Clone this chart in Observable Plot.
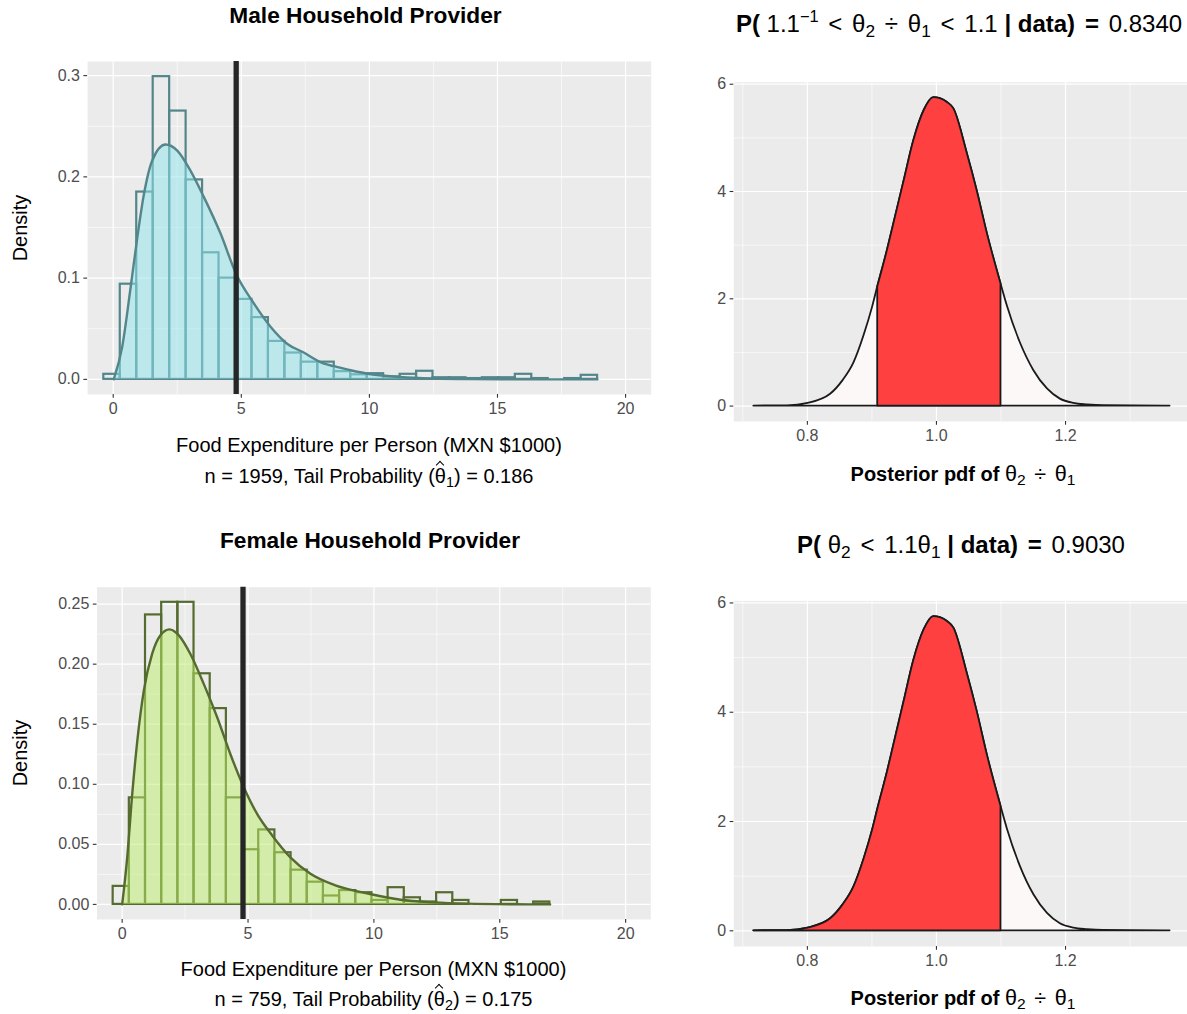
<!DOCTYPE html>
<html>
<head>
<meta charset="utf-8">
<script src="https://cdn.jsdelivr.net/npm/d3@7"></script>
<script src="https://cdn.jsdelivr.net/npm/@observablehq/plot@0.6"></script>
<style>
  html, body { margin: 0; padding: 0; background: #ffffff; }
  #wrap { position: relative; width: 1187px; height: 1014px; overflow: hidden;
          font-family: "Liberation Sans", Arial, Helvetica, sans-serif; color: #000; }
  .abs { position: absolute; white-space: nowrap; }
  .sb { font-size: 72%; position: relative; top: 0.28em; font-weight: normal; }
  .sp { font-size: 68%; position: relative; top: -0.62em; font-weight: normal; }
  .op { margin: 0 0.13em; }
  .opw { margin: 0 0.4em; }
  .n { font-weight: normal; }
  .mth { font-weight: normal; font-size: 108%; }
  .hat { position: relative; display: inline-block; }
  .hc { position: absolute; left: 50%; top: -0.2em; width: 0.26em; height: 0.26em;
        border-left: 1.2px solid #000; border-top: 1.2px solid #000;
        transform: translateX(-50%) rotate(45deg); }
</style>
</head>
<body>
<div id="wrap"></div>
<script>
// ---------------- data ----------------
const FONT = '"Liberation Sans", Arial, Helvetica, sans-serif';

// histogram bins (left edge of first bin, common bin width)
const binWidth = 0.6425;
const maleBinStart = -0.367;
const maleDensity = [0.005, 0.094, 0.185, 0.299, 0.265, 0.197, 0.125, 0.100, 0.079, 0.061,
                     0.0375, 0.026, 0.017, 0.017, 0.0076, 0.0045, 0.0056, 0.0024, 0.005, 0.008,
                     0.0016, 0.0016, 0.0008, 0.0016, 0.0016, 0.005, 0.0008, 0, 0.0008, 0.004];
const femaleBinStart = -0.358;
const femaleDensity = [0.015, 0.0887, 0.241, 0.2515, 0.2515, 0.192, 0.163, 0.0887, 0.0455, 0.062,
                       0.043, 0.0285, 0.0185, 0.007, 0.0115, 0.0097, 0.0033, 0.0139, 0.0055, 0.002,
                       0.0097, 0.0033, 0, 0, 0.0033, 0, 0.002];

// fitted density curves
const maleCurveX = [0.02, 0.35, 0.68, 0.94, 1.2, 1.52, 2.04, 2.5, 3.02, 3.54, 4.19, 4.8, 5.49, 6.14,
                    6.8, 7.4, 8.23, 8.62, 9.27, 9.92, 11.2, 12.5, 14, 16, 18.9];
const maleCurveY = [0, 0.032, 0.091, 0.14, 0.183, 0.216, 0.232, 0.226, 0.206, 0.18, 0.144, 0.104, 0.075, 0.052,
                    0.035, 0.027, 0.0155, 0.013, 0.009, 0.0056, 0.0023, 0.0008, 0.0002, 0, 0];
const femaleCurveX = [0.0, 0.2, 0.4, 0.6, 0.86, 1.19, 1.52, 1.88, 2.25, 2.71, 3.24, 3.77, 4.3, 4.83, 5.36,
                      5.96, 6.69, 7.48, 8.47, 9.8, 11.06, 12.37, 13.7, 15.5, 17.0];
const femaleCurveY = [0, 0.039, 0.092, 0.136, 0.178, 0.2085, 0.224, 0.229, 0.224, 0.2085, 0.1836, 0.156, 0.125, 0.0976, 0.0754,
                      0.0574, 0.039, 0.0255, 0.0158, 0.0089, 0.0039, 0.0017, 0.0006, 0.0001, 0];
const threshold = 4.8;

// posterior pdf of theta2 / theta1
const postX = [0.717, 0.769, 0.801, 0.836, 0.855, 0.872, 0.888, 0.901, 0.909, 0.924, 0.934, 0.950, 0.965, 0.981, 0.996,
               1.006, 1.017, 1.027, 1.048, 1.063, 1.079, 1.100, 1.110, 1.130, 1.151, 1.172, 1.192, 1.213, 1.234, 1.259, 1.362];
const postY = [0, 0.004, 0.05, 0.22, 0.47, 0.80, 1.32, 1.84, 2.22, 2.90, 3.40, 4.20, 4.95, 5.51, 5.75,
               5.73, 5.66, 5.54, 4.70, 4.02, 3.21, 2.28, 1.86, 1.18, 0.66, 0.32, 0.13, 0.05, 0.022, 0.006, 0];
const lowerBound = 0.909;   // 1.1^-1
const upperBound = 1.1;

// ticks
const histXTicks = [0, 5, 10, 15, 20];
const histXMinor = [2.5, 7.5, 12.5, 17.5];
const maleYTicks = [0, 0.1, 0.2, 0.3];
const maleYMinor = [0.05, 0.15, 0.25];
const femaleYTicks = [0, 0.05, 0.10, 0.15, 0.20, 0.25];
const femaleYMinor = [0.025, 0.075, 0.125, 0.175, 0.225];
const postXTicks = [0.8, 1.0, 1.2];
const postXMinor = [0.7, 0.9, 1.1, 1.3];
const postYTicks = [0, 2, 4, 6];
const postYMinor = [1, 3, 5];

// ---------------- helpers ----------------
const wrap = document.getElementById("wrap");
const BG = "#EBEBEB";
const TICK = "#333333";

function place(node, left, top) {
  const d = document.createElement("div");
  d.className = "abs";
  d.style.left = left + "px";
  d.style.top = top + "px";
  d.appendChild(node);
  wrap.appendChild(d);
}

function label(html, cx, base, size, weight) {
  const d = document.createElement("div");
  d.className = "abs";
  d.innerHTML = html;
  d.style.left = (cx - 400) + "px";
  d.style.width = "800px";
  d.style.textAlign = "center";
  d.style.fontSize = size + "px";
  d.style.lineHeight = size + "px";
  d.style.top = (base - 0.8465 * size) + "px";
  d.style.fontWeight = weight || "normal";
  wrap.appendChild(d);
}

function vlabel(text, cx, cy, size) {
  const d = document.createElement("div");
  d.className = "abs";
  d.textContent = text;
  d.style.left = (cx - 100) + "px";
  d.style.width = "200px";
  d.style.textAlign = "center";
  d.style.fontSize = size + "px";
  d.style.lineHeight = size + "px";
  d.style.top = (cy - size / 2) + "px";
  d.style.transform = "rotate(-90deg)";
  wrap.appendChild(d);
}

function gridMarks(xMajor, xMinor, yMajor, yMinor) {
  return [
    Plot.frame({fill: BG, stroke: "none"}),
    Plot.gridX(xMinor, {stroke: "white", strokeOpacity: 1, strokeWidth: 0.6}),
    Plot.gridY(yMinor, {stroke: "white", strokeOpacity: 1, strokeWidth: 0.6}),
    Plot.gridX(xMajor, {stroke: "white", strokeOpacity: 1, strokeWidth: 1.2}),
    Plot.gridY(yMajor, {stroke: "white", strokeOpacity: 1, strokeWidth: 1.2})
  ];
}

function axes(xTicks, xFmt, yTicks, yFmt) {
  return [
    Plot.axisX(xTicks, {tickSize: 3.7, tickPadding: 4, stroke: TICK, strokeWidth: 1.1, fill: "#4D4D4D",
                        tickFormat: xFmt, label: null}),
    Plot.axisY(yTicks, {tickSize: 3.7, tickPadding: 4, stroke: TICK, strokeWidth: 1.1, fill: "#4D4D4D",
                        tickFormat: yFmt, label: null})
  ];
}

function histPlot(o) {
  const bins = o.density.map((d, i) => ({x1: o.start + i * binWidth, x2: o.start + (i + 1) * binWidth, y: d}));
  const curve = o.cx.map((x, i) => ({x, y: o.cy[i]}));
  return Plot.plot({
    width: o.width, height: o.height,
    marginLeft: o.ml, marginRight: o.mr, marginTop: o.mt, marginBottom: o.mb,
    style: {fontSize: "16px", fontFamily: FONT, color: "#4D4D4D", overflow: "visible", maxWidth: "none", background: "transparent"},
    x: {domain: [-1, 21]},
    y: {domain: o.yDomain},
    marks: [
      ...gridMarks(histXTicks, histXMinor, o.yTicks, o.yMinor),
      Plot.rectY(bins, {x1: "x1", x2: "x2", y: "y", fill: "none", stroke: o.stroke, strokeWidth: 2.2,
                        insetLeft: 0, insetRight: 0}),
      Plot.areaY(curve, {x: "x", y: "y", fill: o.fill, fillOpacity: 0.5, curve: "monotone-x"}),
      Plot.line(curve, {x: "x", y: "y", stroke: o.stroke, strokeWidth: 2.4, curve: "monotone-x"}),
      Plot.ruleX([threshold], {stroke: "#262626", strokeWidth: 5.3}),
      ...axes(histXTicks, d3.format("d"), o.yTicks, o.yFmt)
    ]
  });
}

function postPlot(o) {
  const pts = postX.map((x, i) => ({x, y: postY[i]}));
  const red = pts.filter(o.inside);
  return Plot.plot({
    width: o.width, height: o.height,
    marginLeft: o.ml, marginRight: o.mr, marginTop: o.mt, marginBottom: o.mb,
    style: {fontSize: "16px", fontFamily: FONT, color: "#4D4D4D", overflow: "visible", maxWidth: "none", background: "transparent"},
    x: {domain: [0.686, 1.389]},
    y: {domain: [-0.2875, 6.0375]},
    marks: [
      ...gridMarks(postXTicks, postXMinor, postYTicks, postYMinor),
      Plot.areaY(pts, {x: "x", y: "y", fill: "#FCF8F7", stroke: "#1A1A1A", strokeWidth: 1.8, curve: "monotone-x"}),
      Plot.areaY(red, {x: "x", y: "y", fill: "#FF4040", stroke: "#1A1A1A", strokeWidth: 1.8, curve: "monotone-x"}),
      ...axes(postXTicks, d3.format(".1f"), postYTicks, d3.format("d"))
    ]
  });
}

// ---------------- panels ----------------
place(histPlot({
  density: maleDensity, start: maleBinStart, cx: maleCurveX, cy: maleCurveY,
  yDomain: [-0.01495, 0.31395], yTicks: maleYTicks, yMinor: maleYMinor, yFmt: d3.format(".1f"),
  stroke: "#53868B", fill: "#8EE5EE",
  width: 626, height: 369, ml: 57.1, mr: 5.3, mt: 6, mb: 30
}), 30, 55);

place(histPlot({
  density: femaleDensity, start: femaleBinStart, cx: femaleCurveX, cy: femaleCurveY,
  yDomain: [-0.012575, 0.264075], yTicks: femaleYTicks, yMinor: femaleYMinor, yFmt: d3.format(".2f"),
  stroke: "#556B2F", fill: "#BCEE68",
  width: 626, height: 369, ml: 66.5, mr: 5.7, mt: 6.7, mb: 30
}), 30, 580);

place(postPlot({
  inside: d => d.x >= lowerBound && d.x <= upperBound,
  width: 497, height: 376, ml: 43.3, mr: 0, mt: 6.7, mb: 30
}), 690, 75);

place(postPlot({
  inside: d => d.x <= upperBound,
  width: 497, height: 382, ml: 43.3, mr: 0, mt: 6.4, mb: 30
}), 690, 594);

// ---------------- text ----------------
const AX = 20, TT = 22.7, TR = 24;
const th = n => `θ<span class="sb">${n}</span>`;
const hat = n => `(<span class="hat">θ<span class="hc"></span></span><span class="sb">${n}</span>)`;
const ratio = `<span class="mth">${th(2)}<span class="opw">÷</span>${th(1)}</span>`;

label("Male Household Provider", 365.5, 23, TT, "bold");
label(`<b>P(</b> 1.1<span class="sp">−1</span> <span class="op">&lt;</span> ${th(2)} <span class="op">÷</span> ${th(1)} <span class="op">&lt;</span> 1.1 <b>| data) <span class="op">=</span></b> 0.8340`, 959, 32, TR);
label("Food Expenditure per Person (MXN $1000)", 369, 452, AX);
label(`n = 1959, Tail Probability ${hat(1)} = 0.186`, 369, 483, AX);
label(`Posterior pdf of ${ratio}`, 963, 481, AX, "bold");
vlabel("Density", 20, 227.5, AX);

label("Female Household Provider", 370, 548, TT, "bold");
label(`<b>P(</b> ${th(2)} <span class="op">&lt;</span> 1.1${th(1)} <b>| data) <span class="op">=</span></b> 0.9030`, 961, 553, TR);
label("Food Expenditure per Person (MXN $1000)", 373.5, 976, AX);
label(`n = 759, Tail Probability ${hat(2)} = 0.175`, 373.5, 1006, AX);
label(`Posterior pdf of ${ratio}`, 963, 1005, AX, "bold");
vlabel("Density", 20, 752.8, AX);
</script>
</body>
</html>
